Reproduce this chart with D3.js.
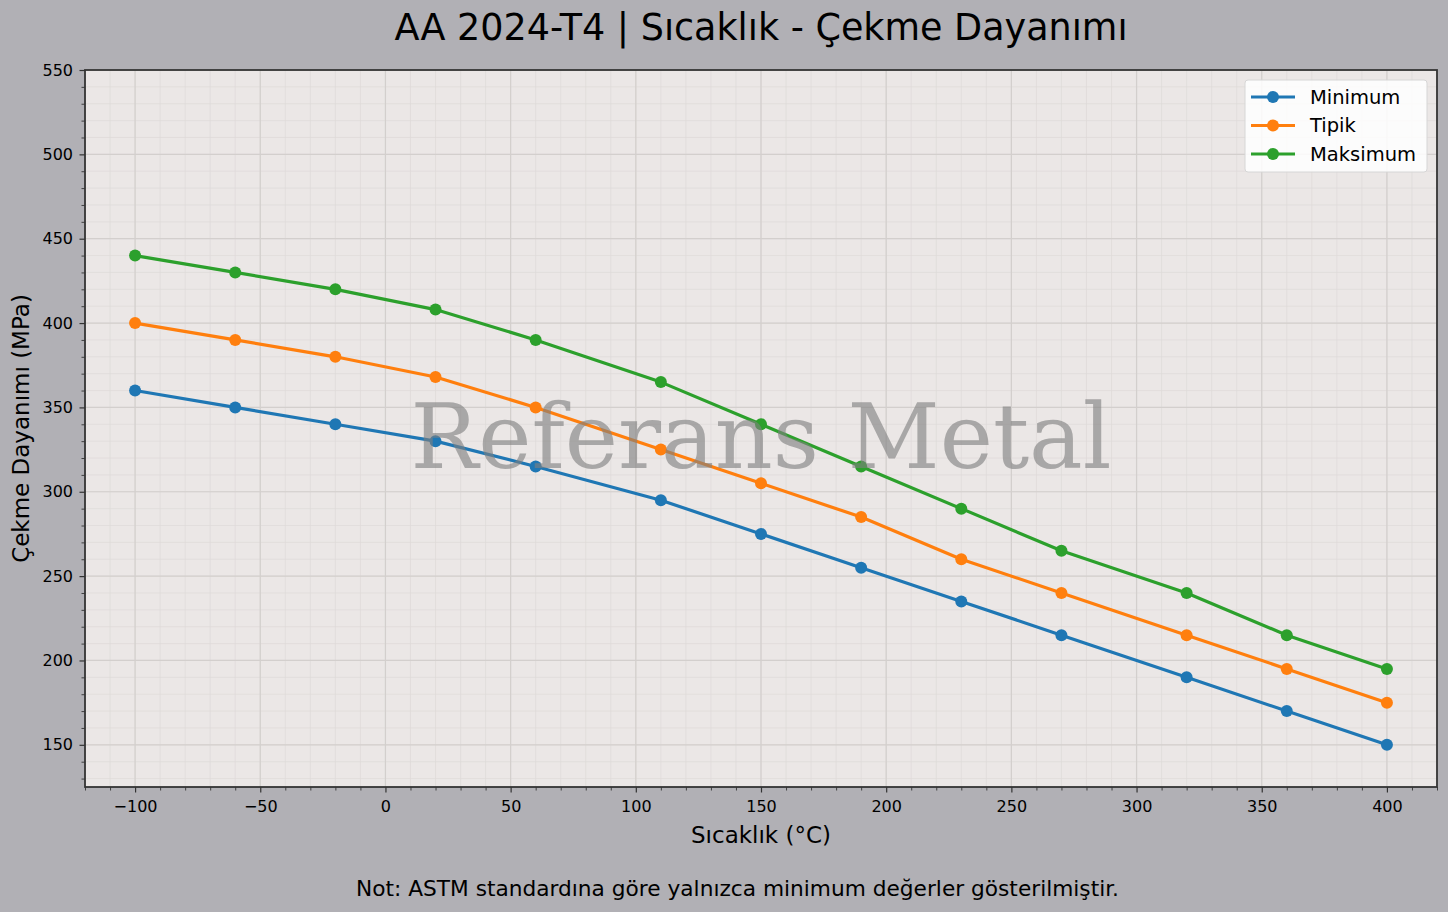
<!DOCTYPE html>
<html lang="tr">
<head>
  <meta charset="UTF-8">
  <title>AA 2024-T4 | Sıcaklık - Çekme Dayanımı</title>
  <style>
    body { margin: 0; background: #b1b0b5; }
    svg { display: block; font-family: "DejaVu Sans", sans-serif; }
    .grid-major line { stroke: #d3cfcd; stroke-width: 1.2px; }
    .grid-minor line { stroke: #dedad8; stroke-width: 0.7px; }
    .axis path { display: none; }
    .axis line { stroke: #333; }
  </style>
</head>
<body>
  <svg width="1448" height="912"></svg>

  <script src="https://d3js.org/d3.v7.min.js"></script>
  <script>
    const temps = [-100, -60, -20, 20, 60, 110, 150, 190, 230, 270, 320, 360, 400];
    const minimum = [360, 350, 340, 330, 315, 295, 275, 255, 235, 215, 190, 170, 150];
    const tipik = [400, 390, 380, 368, 350, 325, 305, 285, 260, 240, 215, 195, 175];
    const maksimum = [440, 430, 420, 408, 390, 365, 340, 315, 290, 265, 240, 215, 195];
    const seriesNames = ["Minimum", "Tipik", "Maksimum"];
    const colors = ["#1f77b4", "#ff7f0e", "#2ca02c"];
    const xTicks = [-100, -50, 0, 50, 100, 150, 200, 250, 300, 350, 400];
    const yTicks = [150, 200, 250, 300, 350, 400, 450, 500, 550];

    const series = [minimum, tipik, maksimum].map((vals, i) => ({
      name: seriesNames[i],
      color: colors[i],
      points: vals.map((v, j) => ({ t: temps[j], v: v }))
    }));

    const margin = { top: 70, right: 11, bottom: 125, left: 85 };
    const width = 1448, height = 912;
    const innerW = width - margin.left - margin.right;
    const innerH = height - margin.top - margin.bottom;

    const svg = d3.select("svg");
    svg.append("rect").attr("width", width).attr("height", height).attr("fill", "#b1b0b5");

    const x = d3.scaleLinear().domain([-120, 420]).range([0, innerW]);
    const y = d3.scaleLinear().domain([125, 550]).range([innerH, 0]);

    const g = svg.append("g").attr("transform", `translate(${margin.left},${margin.top})`);

    g.append("rect").attr("width", innerW).attr("height", innerH).attr("fill", "#ebe7e6");

    const xMinor = d3.range(-120, 421, 10);
    const yMinor = d3.range(130, 551, 10);

    // minor grid
    const gm = g.append("g").attr("class", "grid-minor");
    gm.selectAll(".vx").data(xMinor).enter().append("line")
      .attr("x1", d => x(d)).attr("x2", d => x(d)).attr("y1", 0).attr("y2", innerH);
    gm.selectAll(".hy").data(yMinor).enter().append("line")
      .attr("y1", d => y(d)).attr("y2", d => y(d)).attr("x1", 0).attr("x2", innerW);

    // major grid
    const gM = g.append("g").attr("class", "grid-major");
    gM.selectAll(".vx").data(xTicks).enter().append("line")
      .attr("x1", d => x(d)).attr("x2", d => x(d)).attr("y1", 0).attr("y2", innerH);
    gM.selectAll(".hy").data(yTicks).enter().append("line")
      .attr("y1", d => y(d)).attr("y2", d => y(d)).attr("x1", 0).attr("x2", innerW);

    // lines
    const line = d3.line().x(d => x(d.t)).y(d => y(d.v));
    series.forEach(s => {
      g.append("path").datum(s.points)
        .attr("fill", "none").attr("stroke", s.color)
        .attr("stroke-width", 3.2).attr("stroke-linejoin", "round")
        .attr("d", line);
      g.selectAll(null).data(s.points).enter().append("circle")
        .attr("cx", d => x(d.t)).attr("cy", d => y(d.v))
        .attr("r", 6).attr("fill", s.color);
    });

    // watermark
    g.append("text")
      .attr("x", innerW / 2).attr("y", innerH / 2 + 39.5)
      .attr("text-anchor", "middle")
      .attr("font-family", "DejaVu Serif, serif").attr("font-size", 90)
      .attr("fill", "#808080").attr("fill-opacity", 0.62)
      .text("Referans Metal");

    // axes
    const xAxis = g.append("g").attr("class", "axis").attr("transform", `translate(0,${innerH})`)
      .call(d3.axisBottom(x).tickValues(xTicks).tickSize(5.5).tickPadding(8)
        .tickFormat(d => d < 0 ? "\u2212" + Math.abs(d) : d));
    xAxis.selectAll("line").attr("stroke-width", 1.2);
    g.append("g").attr("class", "axis").attr("transform", `translate(0,${innerH})`)
      .call(d3.axisBottom(x).tickValues(xMinor.filter(d => d % 50 !== 0)).tickSize(3.5).tickFormat(""))
      .selectAll("line").attr("stroke-width", 0.9);

    const yAxis = g.append("g").attr("class", "axis")
      .call(d3.axisLeft(y).tickValues(yTicks).tickSize(5.5).tickPadding(6.5));
    yAxis.selectAll("line").attr("stroke-width", 1.2);
    g.append("g").attr("class", "axis")
      .call(d3.axisLeft(y).tickValues(yMinor.filter(d => d % 50 !== 0)).tickSize(3.5).tickFormat(""))
      .selectAll("line").attr("stroke-width", 0.9);

    [xAxis, yAxis].forEach(a => a.selectAll("text")
      .attr("font-family", "DejaVu Sans, sans-serif")
      .attr("font-size", 16).attr("fill", "#000"));

    // spines
    g.append("rect").attr("width", innerW).attr("height", innerH)
      .attr("fill", "none").attr("stroke", "#333").attr("stroke-width", 1.8);

    // legend
    const lg = g.append("g").attr("transform", `translate(${innerW - 192},10)`);
    lg.append("rect").attr("width", 182).attr("height", 92).attr("rx", 3)
      .attr("fill", "#fff").attr("fill-opacity", 0.85)
      .attr("stroke", "#d6d6d6").attr("stroke-width", 1);
    series.forEach((s, i) => {
      const yy = 17 + i * 28.5;
      lg.append("line").attr("x1", 6).attr("x2", 50).attr("y1", yy).attr("y2", yy)
        .attr("stroke", s.color).attr("stroke-width", 3.2);
      lg.append("circle").attr("cx", 28).attr("cy", yy).attr("r", 6).attr("fill", s.color);
      lg.append("text").attr("x", 65).attr("y", yy).attr("dy", "0.35em")
        .attr("font-size", 19.5).attr("fill", "#000").text(s.name);
    });

    // labels
    svg.append("text").attr("x", margin.left + innerW / 2).attr("y", 40)
      .attr("text-anchor", "middle").attr("font-size", 36.5).attr("fill", "#000")
      .text("AA 2024-T4 | Sıcaklık - Çekme Dayanımı");
    svg.append("text").attr("x", margin.left + innerW / 2).attr("y", 843)
      .attr("text-anchor", "middle").attr("font-size", 23).attr("fill", "#000")
      .text("Sıcaklık (°C)");
    svg.append("text")
      .attr("transform", `translate(29,${margin.top + innerH / 2}) rotate(-90)`)
      .attr("text-anchor", "middle").attr("font-size", 23).attr("fill", "#000")
      .text("Çekme Dayanımı (MPa)");
    svg.append("text").attr("x", 737.5).attr("y", 896)
      .attr("text-anchor", "middle").attr("font-size", 21.7).attr("fill", "#000")
      .text("Not: ASTM standardına göre yalnızca minimum değerler gösterilmiştir.");
  </script>
</body>
</html>
